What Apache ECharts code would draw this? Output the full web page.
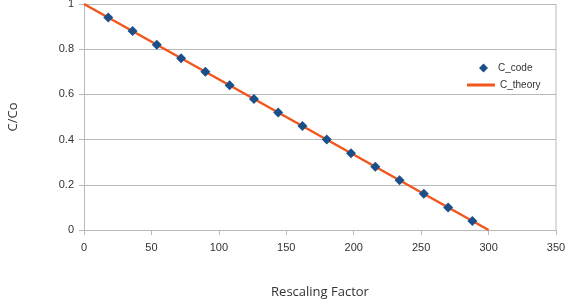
<!DOCTYPE html>
<html>
<head>
<meta charset="utf-8">
<script src="https://cdn.jsdelivr.net/npm/echarts@6/dist/echarts.min.js"></script>
<style>
  html, body { margin: 0; padding: 0; background: #fff; }
  #chart { width: 572px; height: 300px; }
</style>
</head>
<body>
<div id="chart"></div>
<script>
// measured points (C_code)
var codeX = [18, 36, 54, 72, 90, 108, 126, 144, 162, 180, 198, 216, 234, 252, 270, 288];
var codeY = [0.94, 0.88, 0.82, 0.76, 0.70, 0.64, 0.58, 0.52, 0.46, 0.40, 0.34, 0.28, 0.22, 0.16, 0.10, 0.04];
// theory line end points
var theoryX = [0, 300];
var theoryY = [1, 0];

var codePts = codeX.map(function (x, i) { return [x, codeY[i]]; });
var theoryPts = theoryX.map(function (x, i) { return [x, theoryY[i]]; });

var gridColor = '#b9b9b9';
var txt = '#333';

var myChart = echarts.init(document.getElementById('chart'));
var option = {
    animation: false,
    grid: { left: 84, right: 16, top: 4, bottom: 70, outerBoundsMode: 'none' },
    legend: [
        {
            data: [{ name: 'C_code', icon: 'diamond' }],
            left: 474, top: 58,
            itemWidth: 9, itemHeight: 9,
            textStyle: { fontSize: 10, color: txt, padding: [0, 0, 0, 5], fontFamily: 'Liberation Sans' }
        },
        {
            data: [{ name: 'C_theory', icon: 'rect' }],
            left: 462, top: 75,
            itemWidth: 28, itemHeight: 3,
            textStyle: { fontSize: 10, color: txt, fontFamily: 'Liberation Sans' }
        }
    ],
    xAxis: {
        type: 'value', min: 0, max: 350, interval: 50,
        name: 'Rescaling Factor', nameLocation: 'middle', nameGap: 56,
        nameTextStyle: { fontSize: 13, color: txt, fontFamily: 'Open Sans' },
        axisLine: { show: true, lineStyle: { color: gridColor } },
        axisTick: { show: true, length: 5, lineStyle: { color: gridColor } },
        axisLabel: { fontSize: 11, color: txt, margin: 12, fontFamily: 'Liberation Sans' },
        splitLine: { show: false }
    },
    yAxis: {
        type: 'value', min: 0, max: 1, interval: 0.2,
        name: 'C/Co', nameLocation: 'middle', nameGap: 64,
        nameTextStyle: { fontSize: 13, color: txt, fontFamily: 'Open Sans' },
        axisLine: { show: true, lineStyle: { color: gridColor } },
        axisTick: { show: true, length: 5, lineStyle: { color: gridColor } },
        axisLabel: { fontSize: 11, color: txt, margin: 10, fontFamily: 'Liberation Sans' },
        splitLine: { show: true, lineStyle: { color: gridColor } }
    },
    series: [
        {
            name: 'C_theory',
            type: 'line',
            data: theoryPts,
            symbol: 'none',
            lineStyle: { color: '#f2561d', width: 2.5 },
            itemStyle: { color: '#f2561d' },
            z: 2
        },
        {
            name: 'C_code',
            type: 'scatter',
            data: codePts,
            symbol: 'diamond',
            symbolSize: 10,
            itemStyle: { color: '#1b4f8a', opacity: 1 },
            z: 3
        },
        {
            // right border of the plot area
            type: 'line',
            data: [[350, 0], [350, 1]],
            symbol: 'none',
            silent: true,
            lineStyle: { color: gridColor, width: 1 },
            z: 1
        }
    ]
};
myChart.setOption(option);
</script>
</body>
</html>
